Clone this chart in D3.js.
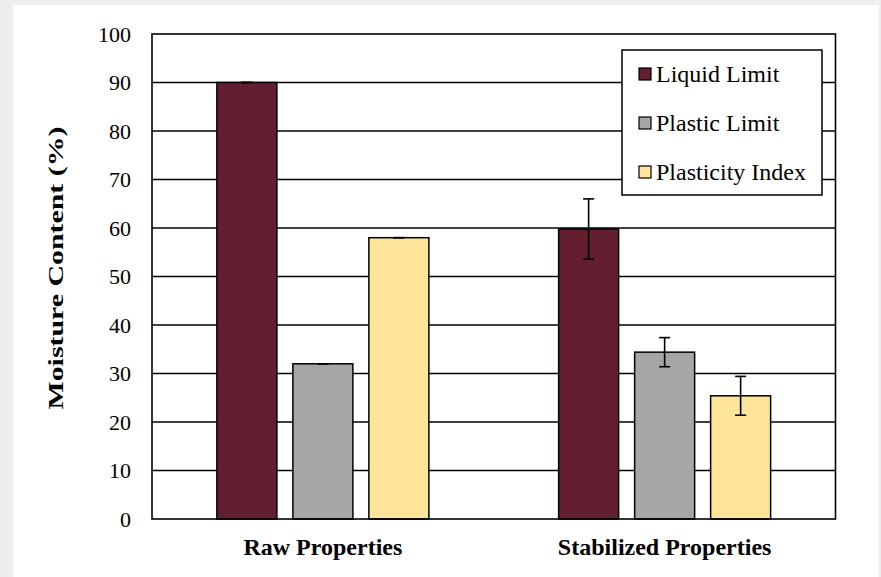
<!DOCTYPE html>
<html>
<head>
<meta charset="utf-8">
<script src="https://cdn.jsdelivr.net/npm/d3@7"></script>
<style>
  html, body { margin: 0; padding: 0; background: #eeeeee; }
  svg { display: block; }
</style>
</head>
<body>
<svg id="chart" width="881" height="577"></svg>
<script>
// ---- Data ----
const categories = ["Raw Properties", "Stabilized Properties"];
const seriesNames = ["Liquid Limit", "Plastic Limit", "Plasticity Index"];
const seriesColors = ["#631e30", "#a6a6a6", "#ffe599"];
const liquidLimit = [90, 59.8];
const plasticLimit = [32, 34.4];
const plasticityIndex = [58, 25.4];
const liquidLimitErr = [0, 6.2];
const plasticLimitErr = [0, 3.0];
const plasticityIndexErr = [0, 4.0];
const yTicks = [0, 10, 20, 30, 40, 50, 60, 70, 80, 90, 100];
const yTitle = "Moisture Content (%)";

const seriesValues = [liquidLimit, plasticLimit, plasticityIndex];
const seriesErrs = [liquidLimitErr, plasticLimitErr, plasticityIndexErr];

const svg = d3.select("#chart");
const W = 881, H = 577;

// white card
svg.append("rect").attr("x", 13).attr("y", 5).attr("width", 866).attr("height", H - 5).attr("fill", "#ffffff");

const plot = { left: 152, right: 835.5, top: 34, bottom: 519 };

const x0 = d3.scaleBand().domain(categories).range([plot.left, plot.right]).paddingInner(0).paddingOuter(0);
const x1 = d3.scaleBand().domain(seriesNames).range([0, 212]).paddingInner(16 / 76).paddingOuter(0);
const y = d3.scaleLinear().domain([0, 100]).range([plot.bottom, plot.top]);

const serif = "'Liberation Serif', 'Times New Roman', serif";

// gridlines
svg.append("g").selectAll("line").data(yTicks.filter(t => t > 0 && t < 100)).join("line")
  .attr("x1", plot.left).attr("x2", plot.right)
  .attr("y1", d => y(d)).attr("y2", d => y(d))
  .attr("stroke", "#000").attr("stroke-width", 1.3);

// y axis labels via d3 axis
const yAxis = d3.axisLeft(y).tickValues(yTicks).tickSize(0).tickPadding(21).tickFormat(d3.format("d"));
const gy = svg.append("g").attr("transform", `translate(${plot.left},0)`).call(yAxis);
gy.select(".domain").remove();
gy.selectAll("text").attr("font-family", serif).attr("font-size", 22).attr("fill", "#000");

// bars
const rows = [];
categories.forEach((c, ci) => {
  seriesNames.forEach((s, si) => {
    rows.push({ cat: c, series: s, si, value: seriesValues[si][ci], err: seriesErrs[si][ci] });
  });
});

const groupOffset = (x0.bandwidth() - 212) / 2;

const gBars = svg.append("g");
gBars.selectAll("rect").data(rows).join("rect")
  .attr("x", d => x0(d.cat) + groupOffset + x1(d.series))
  .attr("width", x1.bandwidth())
  .attr("y", d => y(d.value))
  .attr("height", d => y(0) - y(d.value))
  .attr("fill", d => seriesColors[d.si])
  .attr("stroke", "#000").attr("stroke-width", 1.5);

// error bars
const gErr = svg.append("g").attr("stroke", "#000").attr("stroke-width", 1.6);
rows.forEach(d => {
  const cx = x0(d.cat) + groupOffset + x1(d.series) + x1.bandwidth() / 2;
  if (d.err > 0) {
    gErr.append("line").attr("x1", cx).attr("x2", cx).attr("y1", y(d.value + d.err)).attr("y2", y(d.value - d.err));
  }
  [d.value + d.err, d.value - d.err].forEach(v => {
    gErr.append("line").attr("x1", cx - 5.5).attr("x2", cx + 5.5).attr("y1", y(v)).attr("y2", y(v));
  });
});

// plot border
svg.append("rect").attr("x", plot.left).attr("y", plot.top)
  .attr("width", plot.right - plot.left).attr("height", plot.bottom - plot.top)
  .attr("fill", "none").attr("stroke", "#000").attr("stroke-width", 1.6);

// x labels
svg.append("g").selectAll("text").data(categories).join("text")
  .attr("x", d => x0(d) + x0.bandwidth() / 2)
  .attr("y", 555)
  .attr("text-anchor", "middle")
  .attr("font-family", serif).attr("font-weight", "bold").attr("font-size", 24)
  .attr("fill", "#000")
  .text(d => d);

// y title
svg.append("text")
  .attr("transform", `translate(63, 268) rotate(-90)`)
  .attr("text-anchor", "middle")
  .attr("font-family", serif).attr("font-weight", "bold").attr("font-size", 22)
  .attr("textLength", 283).attr("lengthAdjust", "spacingAndGlyphs")
  .attr("fill", "#000")
  .text(yTitle);

// legend
const lg = svg.append("g");
lg.append("rect").attr("x", 622).attr("y", 50).attr("width", 200).attr("height", 145)
  .attr("fill", "#fff").attr("stroke", "#000").attr("stroke-width", 1.5);
const legendY = [74, 123, 172];
seriesNames.forEach((s, i) => {
  lg.append("rect").attr("x", 639).attr("y", legendY[i] - 6).attr("width", 12).attr("height", 12)
    .attr("fill", seriesColors[i]).attr("stroke", "#000").attr("stroke-width", 1.2);
  lg.append("text").attr("x", 656).attr("y", legendY[i]).attr("dy", "0.35em")
    .attr("font-family", serif).attr("font-size", 24).attr("fill", "#000").text(s);
});
</script>
</body>
</html>
